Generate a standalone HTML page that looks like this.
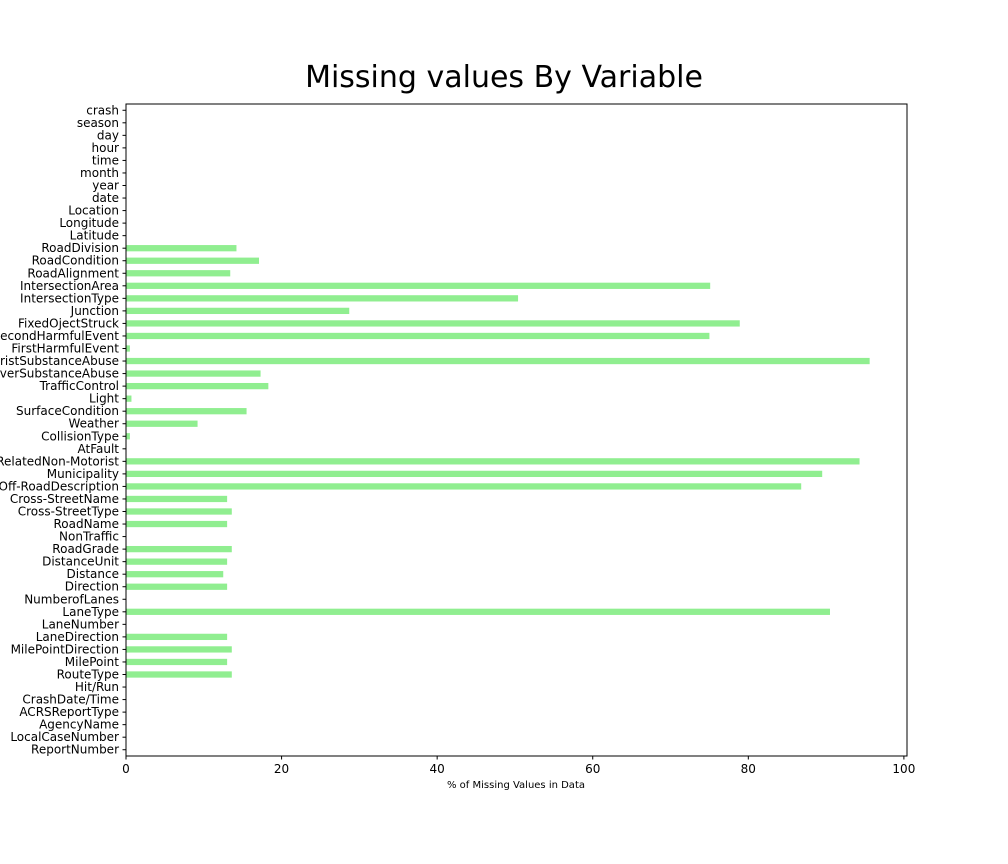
<!DOCTYPE html>
<html><head><meta charset="utf-8"><style>
html,body{margin:0;padding:0;background:#fff;}
svg{display:block;font-family:"DejaVu Sans","Liberation Sans",sans-serif;}
</style></head><body>
<svg id="chart" width="1008" height="864" viewBox="0 0 1008 864">
<text x="504" y="87" text-anchor="middle" font-size="30" fill="#000">Missing values By Variable</text>
<g id="bars"></g>
<g id="yticks"></g>
<g id="xticks"></g>
<rect x="126" y="104" width="781" height="652" fill="none" stroke="#000" stroke-width="1"/>
<text x="516" y="788" text-anchor="middle" font-size="10" fill="#000">% of Missing Values in Data</text>
</svg>
<script>
const categories=["ReportNumber","LocalCaseNumber","AgencyName","ACRSReportType","CrashDate/Time","Hit/Run","RouteType","MilePoint","MilePointDirection","LaneDirection","LaneNumber","LaneType","NumberofLanes","Direction","Distance","DistanceUnit","RoadGrade","NonTraffic","RoadName","Cross-StreetType","Cross-StreetName","Off-RoadDescription","Municipality","RelatedNon-Motorist","AtFault","CollisionType","Weather","SurfaceCondition","Light","TrafficControl","DriverSubstanceAbuse","NonMotoristSubstanceAbuse","FirstHarmfulEvent","SecondHarmfulEvent","FixedOjectStruck","Junction","IntersectionType","IntersectionArea","RoadAlignment","RoadCondition","RoadDivision","Latitude","Longitude","Location","date","year","month","time","hour","day","season","crash"];
const values=[0,0,0,0,0,0,13.6,13,13.6,13,0,90.5,0,13,12.5,13,13.6,0,13,13.6,13,86.8,89.5,94.3,0,0.5,9.2,15.5,0.7,18.3,17.3,95.6,0.5,75,78.9,28.7,50.4,75.1,13.4,17.1,14.2,0,0,0,0,0,0,0,0,0,0,0];
const xTicks=[0,20,40,60,80,100];
const NS="http://www.w3.org/2000/svg";
const L=126,R=907,T=104,B=756,XMAX=100.4;
const n=categories.length;
const xs=v=>L+v/XMAX*(R-L);
const ys=i=>B-(i+0.5)*(B-T)/n;
const bh=0.5*(B-T)/n;
const bars=document.getElementById('bars'),yt=document.getElementById('yticks'),xt=document.getElementById('xticks');
categories.forEach((c,i)=>{
 const y=ys(i);
 if(values[i]>0){
  const r=document.createElementNS(NS,'rect');
  r.setAttribute('x',L);r.setAttribute('y',y-bh/2);
  r.setAttribute('width',xs(values[i])-L);r.setAttribute('height',bh);
  r.setAttribute('fill','#90ee90');
  
  
  bars.appendChild(r);
 }
 const tk=document.createElementNS(NS,'line');
 tk.setAttribute('x1',L-3.5);tk.setAttribute('x2',L);tk.setAttribute('y1',y);tk.setAttribute('y2',y);tk.setAttribute('stroke','#000');
 
 
 yt.appendChild(tk);
 const t=document.createElementNS(NS,'text');
 t.setAttribute('x',L-7);t.setAttribute('y',y+4);t.setAttribute('text-anchor','end');t.setAttribute('font-size','12');
 t.textContent=c;
 
 
 yt.appendChild(t);
});
xTicks.forEach(v=>{
 const x=xs(v);
 const tk=document.createElementNS(NS,'line');
 tk.setAttribute('x1',x);tk.setAttribute('x2',x);tk.setAttribute('y1',B);tk.setAttribute('y2',B+3.5);tk.setAttribute('stroke','#000');
 
 
 xt.appendChild(tk);
 const t=document.createElementNS(NS,'text');
 t.setAttribute('x',x);t.setAttribute('y',B+17);t.setAttribute('text-anchor','middle');t.setAttribute('font-size','12');
 t.textContent=v;
 
 
 xt.appendChild(t);
});
</script>
</body></html>
